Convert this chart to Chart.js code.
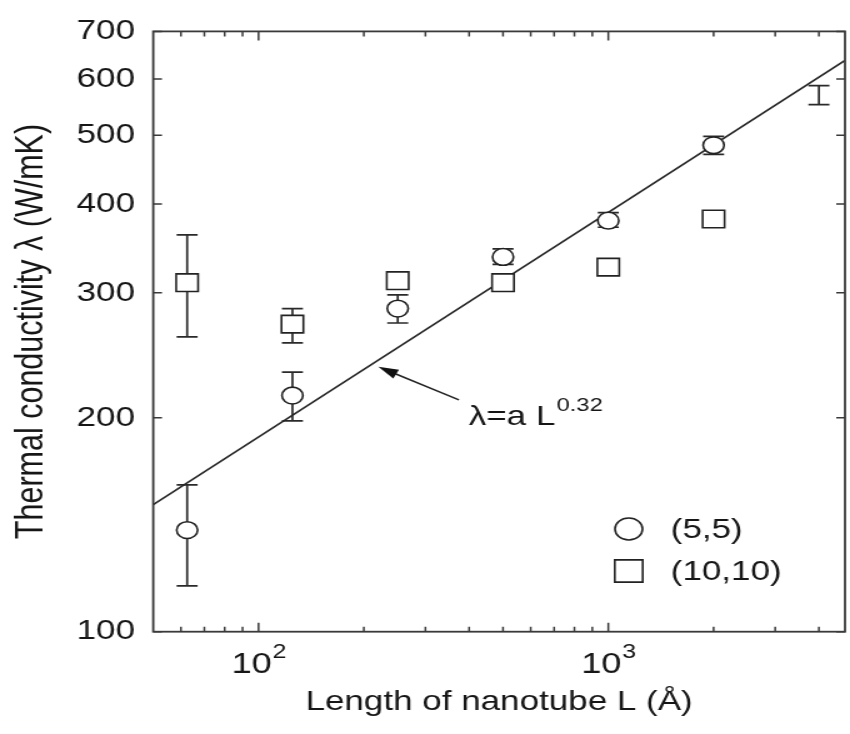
<!DOCTYPE html>
<html lang="en">
<head>
  <meta charset="UTF-8">
  <title>Thermal conductivity vs nanotube length</title>
  <script src="https://cdn.jsdelivr.net/npm/chart.js"></script>
  <style>
    html, body {
      margin: 0;
      padding: 0;
      background: #fff;
      overflow: hidden;
    }
    /* the figure is drawn a bit narrow and widened, which gives the broad lettering and oval circles */
    .figure-wrap {
      width: 690px;
      height: 734px;
      transform: scaleX(1.25);
      transform-origin: 0 0;
    }
    #kappaChart {
      display: block;
    }
  </style>
</head>
<body>

<div class="figure-wrap">
  <canvas id="kappaChart" width="690" height="734"></canvas>
</div>

<script>
  // nanotube length L (Angstrom)
  const lengthL55 = [62.5, 125, 250, 500, 1000, 2000, 4000];
  const lengthL1010 = [62.5, 125, 250, 500, 1000, 2000];

  // (5,5) tube: conductivity and error range (W/mK)
  const kappa55 = [139, 215, 285, 337, 379, 484, 569];
  const kappa55Lo = [116, 198, 272, 329, 371, 470, 552];
  const kappa55Hi = [161, 232, 298, 346, 389, 498, 587];
  const marker55 = [true, true, true, true, true, true, false];

  // (10,10) tube
  const kappa1010 = [310, 271, 312, 310, 326, 381];
  const kappa1010Lo = [260, 255, null, null, null, null];
  const kappa1010Hi = [362, 285, null, null, null, null];

  // power-law fit, straight on log-log axes
  const fitL = [50, 4750];
  const fitKappa = [151, 637];

  // axes
  const xMajorTicks = [100, 1000];
  const xMinorTicks = [60, 70, 80, 90, 200, 300, 400, 500, 600, 700, 800, 900, 2000, 3000, 4000];
  const yTicks = [100, 200, 300, 400, 500, 600, 700];

  const FONT = '"Liberation Sans", Arial, sans-serif';
  const INK = '#161616';
  const AXIS = '#3a3a3a';

  const errorBars = {
    id: 'errorBars',
    beforeDatasetsDraw(chart) {
      const { ctx, scales: { x, y } } = chart;
      const sets = [
        [lengthL55, kappa55Lo, kappa55Hi],
        [lengthL1010, kappa1010Lo, kappa1010Hi]
      ];
      ctx.save();
      ctx.strokeStyle = '#2a2a2a';
      ctx.lineWidth = 1.7;
      ctx.beginPath();
      sets.forEach(([xs, lo, hi]) => {
        xs.forEach((L, i) => {
          if (lo[i] == null) return;
          const px = x.getPixelForValue(L);
          const y1 = y.getPixelForValue(lo[i]);
          const y2 = y.getPixelForValue(hi[i]);
          ctx.moveTo(px, y1); ctx.lineTo(px, y2);
          ctx.moveTo(px - 8.4, y1); ctx.lineTo(px + 8.4, y1);
          ctx.moveTo(px - 8.4, y2); ctx.lineTo(px + 8.4, y2);
        });
      });
      ctx.stroke();
      ctx.restore();
    }
  };

  const frameTicks = {
    id: 'frameTicks',
    afterDatasetsDraw(chart) {
      const { ctx, chartArea: a, scales: { x, y } } = chart;
      ctx.save();
      ctx.strokeStyle = AXIS;
      ctx.lineWidth = 1.8;
      ctx.strokeRect(a.left, a.top, a.right - a.left, a.bottom - a.top);

      // inward ticks on all four sides
      ctx.lineWidth = 1.5;
      ctx.beginPath();
      xMajorTicks.concat(xMinorTicks).forEach(v => {
        const px = x.getPixelForValue(v);
        const len = xMajorTicks.includes(v) ? 9 : 5;
        ctx.moveTo(px, a.bottom); ctx.lineTo(px, a.bottom - len);
        ctx.moveTo(px, a.top); ctx.lineTo(px, a.top + len);
      });
      yTicks.forEach(v => {
        const py = y.getPixelForValue(v);
        ctx.moveTo(a.left, py); ctx.lineTo(a.left + 7, py);
        ctx.moveTo(a.right, py); ctx.lineTo(a.right - 7, py);
      });
      ctx.stroke();

      // decade labels 10^n
      ctx.fillStyle = INK;
      ctx.textBaseline = 'alphabetic';
      xMajorTicks.forEach(v => {
        const px = x.getPixelForValue(v);
        const exp = String(Math.round(Math.log10(v)));
        ctx.font = '29px ' + FONT;
        const wBase = ctx.measureText('10').width;
        ctx.font = '20px ' + FONT;
        const wExp = ctx.measureText(exp).width;
        const x0 = px - (wBase + wExp) / 2;
        ctx.font = '29px ' + FONT;
        ctx.fillText('10', x0, a.bottom + 41.6);
        ctx.font = '20px ' + FONT;
        ctx.fillText(exp, x0 + wBase + 0.5, a.bottom + 26.6);
      });
      ctx.restore();
    }
  };

  const fitNote = {
    id: 'fitNote',
    afterDraw(chart) {
      const { ctx, scales: { x, y } } = chart;
      const tipX = x.getPixelForValue(220), tipY = y.getPixelForValue(236);
      const tailX = x.getPixelForValue(374), tailY = y.getPixelForValue(212);
      const ang = Math.atan2(tipY - tailY, tipX - tailX);
      ctx.save();
      ctx.strokeStyle = '#222';
      ctx.fillStyle = '#111';
      ctx.lineWidth = 1.5;
      ctx.beginPath();
      ctx.moveTo(tailX, tailY);
      ctx.lineTo(tipX - 12 * Math.cos(ang), tipY - 12 * Math.sin(ang));
      ctx.stroke();
      ctx.beginPath();
      ctx.moveTo(tipX, tipY);
      ctx.lineTo(tipX - 16 * Math.cos(ang) + 5 * Math.sin(ang), tipY - 16 * Math.sin(ang) - 5 * Math.cos(ang));
      ctx.lineTo(tipX - 16 * Math.cos(ang) - 5 * Math.sin(ang), tipY - 16 * Math.sin(ang) + 5 * Math.cos(ang));
      ctx.closePath();
      ctx.fill();

      const tx = x.getPixelForValue(399), ty = y.getPixelForValue(195.6);
      ctx.fillStyle = INK;
      ctx.textBaseline = 'alphabetic';
      ctx.font = '28px ' + FONT;
      ctx.fillText('λ=a L', tx, ty);
      const w = ctx.measureText('λ=a L').width;
      ctx.font = '19px ' + FONT;
      ctx.fillText('0.32', tx + w + 1, ty - 13.4);
      ctx.restore();
    }
  };

  const markerKey = {
    id: 'markerKey',
    afterDraw(chart) {
      const { ctx, chartArea: a } = chart;
      const rows = chart.data.datasets.filter(d => d.inKey);
      ctx.save();
      rows.forEach((d, i) => {
        const cy = 529 + i * 42;
        const cx = a.left + 380.4;
        ctx.strokeStyle = d.borderColor;
        ctx.fillStyle = '#fff';
        ctx.lineWidth = d.pointBorderWidth;
        Chart.helpers.drawPoint(ctx, {
          pointStyle: d.pointStyle,
          radius: d.keyRadius,
          borderWidth: d.pointBorderWidth,
          rotation: 0
        }, cx, cy);
        ctx.fillStyle = INK;
        ctx.font = '28px ' + FONT;
        ctx.textBaseline = 'middle';
        ctx.fillText(d.label, a.left + 414, cy + 1);
      });
      ctx.restore();
    }
  };

  new Chart(document.getElementById('kappaChart').getContext('2d'), {
    type: 'scatter',
    data: {
      datasets: [
        {
          label: '(5,5)',
          inKey: true,
          keyRadius: 11,
          data: lengthL55.map((L, i) => ({ x: L, y: kappa55[i] })),
          pointStyle: 'circle',
          pointRadius: ctx => marker55[ctx.dataIndex] ? 8.4 : 0,
          pointBorderWidth: 1.6,
          borderColor: '#222',
          backgroundColor: '#fff'
        },
        {
          label: '(10,10)',
          inKey: true,
          keyRadius: 15.8,
          data: lengthL1010.map((L, i) => ({ x: L, y: kappa1010[i] })),
          pointStyle: 'rect',
          pointRadius: 12.4,
          pointBorderWidth: 1.6,
          borderColor: '#222',
          backgroundColor: '#fff'
        },
        {
          label: 'fit',
          type: 'line',
          data: fitL.map((L, i) => ({ x: L, y: fitKappa[i] })),
          showLine: true,
          pointRadius: 0,
          borderWidth: 1.6,
          borderColor: '#262626',
          fill: false
        }
      ]
    },
    options: {
      responsive: false,
      animation: false,
      events: [],
      layout: {
        padding: { top: 21.7, right: 8.4, left: 0, bottom: 0 }
      },
      plugins: {
        legend: { display: false },
        tooltip: { enabled: false }
      },
      scales: {
        x: {
          type: 'logarithmic',
          min: 50,
          max: 4750,
          grid: { display: false },
          border: { display: false },
          ticks: { display: false },
          afterFit: s => { s.height = 102.3; },
          title: {
            display: true,
            text: 'Length of nanotube L (Å)',
            color: INK,
            font: { family: FONT, size: 28 },
            padding: { top: 0, bottom: 15 }
          }
        },
        y: {
          type: 'logarithmic',
          min: 100,
          max: 700,
          grid: { display: false, drawTicks: false },
          border: { display: false },
          afterBuildTicks: s => { s.ticks = yTicks.map(v => ({ value: v })); },
          afterFit: s => { s.width = 122.6; },
          ticks: {
            autoSkip: false,
            padding: 14.6,
            color: INK,
            font: { family: FONT, size: 28 },
            callback: v => String(v)
          },
          title: {
            display: true,
            text: 'Thermal conductivity λ (W/mK)',
            color: INK,
            font: { family: FONT, size: 30.5 },
            padding: { top: 7, bottom: 0 }
          }
        }
      }
    },
    plugins: [errorBars, frameTicks, fitNote, markerKey]
  });
</script>

</body>
</html>
